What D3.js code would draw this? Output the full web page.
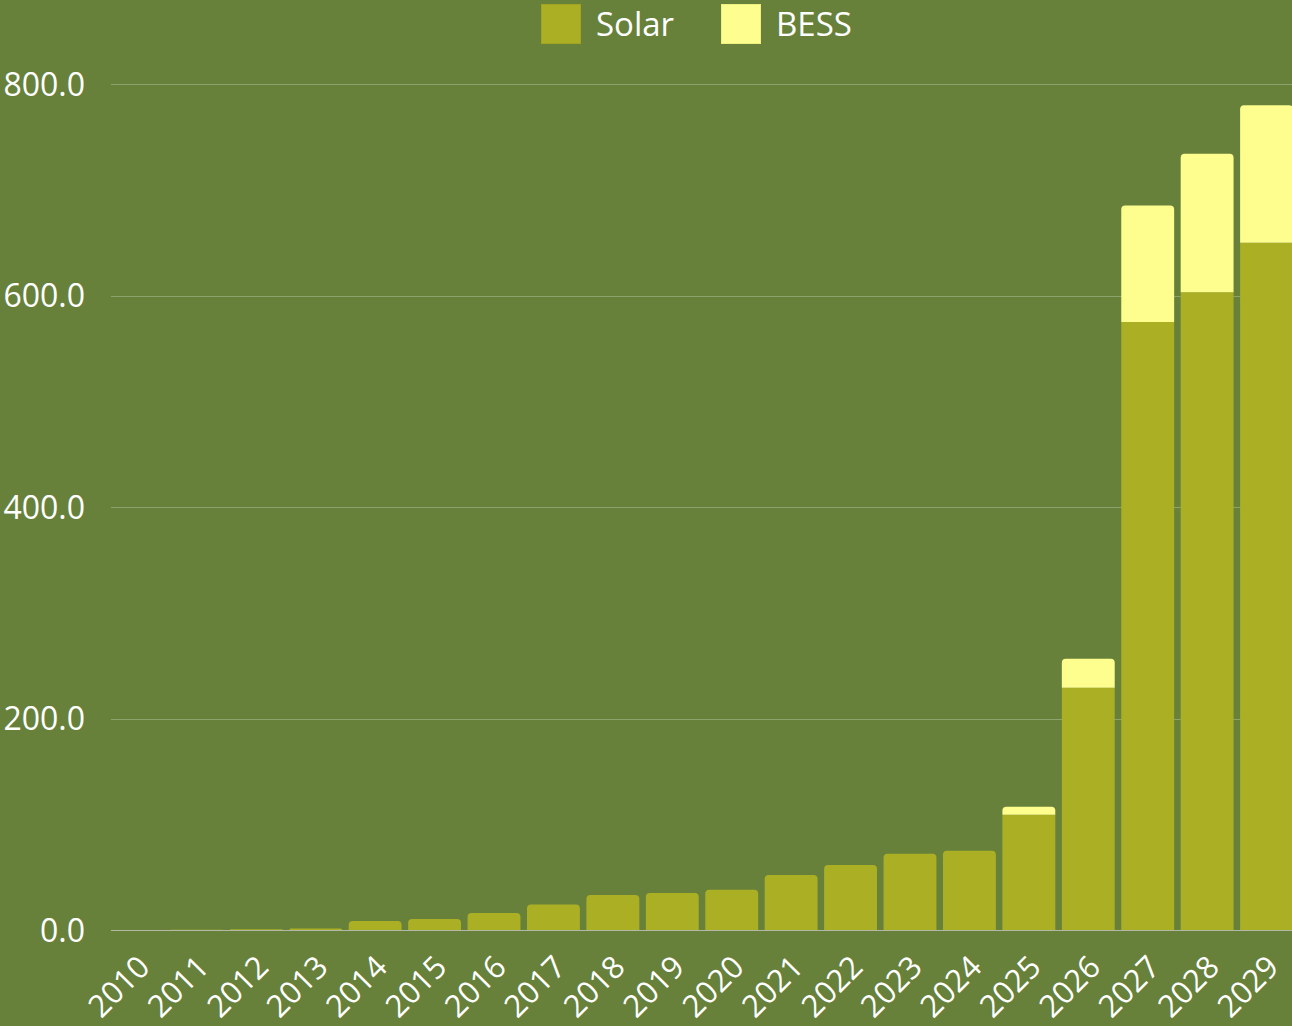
<!DOCTYPE html>
<html>
<head>
<meta charset="utf-8">
<script src="https://cdn.jsdelivr.net/npm/d3@7"></script>
<style>
  html, body { margin: 0; padding: 0; background: #67813a; }
  svg { display: block; font-family: "Open Sans", "Noto Sans", sans-serif; }
</style>
</head>
<body>
<svg id="chart" width="1292" height="1026"></svg>
<script>
const years = ['2010', '2011', '2012', '2013', '2014', '2015', '2016', '2017', '2018', '2019',
  '2020', '2021', '2022', '2023', '2024', '2025', '2026', '2027', '2028', '2029'];
const solar = [0, 0.3, 0.6, 1.5, 8.5, 10.5, 16, 24, 33, 35, 38, 52, 61.5, 72, 75, 109, 229, 575, 603, 650];
const bess = [0, 0, 0, 0, 0, 0, 0, 0, 0, 0, 0, 0, 0, 0, 0, 7.5, 27.5, 110, 131, 130];
const yTicks = [0, 200, 400, 600, 800];

const svg = d3.select('#chart');
const plotLeft = 111, plotRight = 1293, plotTop = 84, plotBottom = 930;

const x = d3.scaleBand()
  .domain(years)
  .range([plotLeft, plotRight])
  .paddingInner(0.11)
  .paddingOuter(0);

const y = d3.scaleLinear()
  .domain([0, 800])
  .range([plotBottom, plotTop]);

// gridlines
svg.append('g')
  .selectAll('line')
  .data(yTicks)
  .enter()
  .append('line')
  .attr('x1', plotLeft)
  .attr('x2', 1292)
  .attr('y1', d => Math.round(y(d)) + 0.5)
  .attr('y2', d => Math.round(y(d)) + 0.5)
  .attr('stroke', d => d === 0 ? '#b4b9a6' : '#8ea26b')
  .attr('stroke-width', 1);

// y labels
svg.append('g')
  .selectAll('text')
  .data(yTicks)
  .enter()
  .append('text')
  .attr('x', 85)
  .attr('y', d => y(d))
  .attr('dy', '0.36em')
  .attr('text-anchor', 'end')
  .attr('fill', '#ffffff')
  .attr('font-size', 32)
  .text(d => d.toFixed(1));

// rounded-top rect path
function topRounded(x0, y0, w, h, r) {
  r = Math.min(r, h, w / 2);
  return 'M' + x0 + ',' + (y0 + h) +
    'V' + (y0 + r) +
    'Q' + x0 + ',' + y0 + ' ' + (x0 + r) + ',' + y0 +
    'H' + (x0 + w - r) +
    'Q' + (x0 + w) + ',' + y0 + ' ' + (x0 + w) + ',' + (y0 + r) +
    'V' + (y0 + h) + 'Z';
}

const data = years.map((yr, i) => ({ year: yr, solar: solar[i], bess: bess[i] }));
const bars = svg.append('g');

data.forEach(d => {
  const bx = x(d.year), bw = x.bandwidth();
  const ySolar = y(d.solar);
  const hSolar = plotBottom - ySolar;
  if (hSolar > 0) {
    bars.append('path')
      .attr('d', d.bess > 0
        ? 'M' + bx + ',' + ySolar + 'h' + bw + 'V' + plotBottom + 'H' + bx + 'Z'
        : topRounded(bx, ySolar, bw, hSolar, 4))
      .attr('fill', '#abaf24');
  }
  if (d.bess > 0) {
    const yTop = y(d.solar + d.bess);
    bars.append('path')
      .attr('d', topRounded(bx, yTop, bw, ySolar - yTop, 4))
      .attr('fill', '#fdfe8e');
  }
});

// x labels
svg.append('g')
  .selectAll('text')
  .data(years)
  .enter()
  .append('text')
  .attr('transform', d => 'translate(' + (x(d) + x.bandwidth() / 2 + 14) + ',969) rotate(-45)')
  .attr('text-anchor', 'end')
  .attr('fill', '#ffffff')
  .attr('font-size', 31)
  .text(d => d);

// legend
const legendItems = [
  { name: 'Solar', color: '#abaf24', stroke: '#a0a421', x: 541 },
  { name: 'BESS', color: '#fdfe8e', stroke: '#eef07f', x: 721 }
];
const legend = svg.append('g');
legendItems.forEach(item => {
  legend.append('rect')
    .attr('x', item.x + 0.5)
    .attr('y', 4.5)
    .attr('width', 39)
    .attr('height', 39)
    .attr('fill', item.color)
    .attr('stroke', item.stroke);
  legend.append('text')
    .attr('x', item.x + 55)
    .attr('y', 36)
    .attr('fill', '#ffffff')
    .attr('font-size', 33)
    .text(item.name);
});
</script>
</body>
</html>
